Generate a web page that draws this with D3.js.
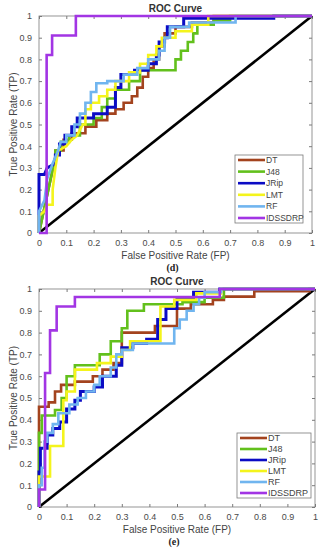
<!DOCTYPE html>
<html>
<head>
<meta charset="utf-8">
<script src="https://cdn.jsdelivr.net/npm/d3@7"></script>
<style>
  body { margin: 0; background: #fff; }
  svg { display: block; font-family: "Liberation Sans", Arial, sans-serif; }
</style>
</head>
<body>
<div id="container"></div>
<script>
// series names, colours, tick values
const seriesNames = ["DT", "J48", "JRip", "LMT", "RF", "IDSSDRP"];
const seriesColors = ["#a3431e", "#62c01c", "#0b0bc4", "#f4f41c", "#70b5ef", "#a235e4"];
const tickValues = [0, 0.1, 0.2, 0.3, 0.4, 0.5, 0.6, 0.7, 0.8, 0.9, 1];
const tickLabels = ["0", "0.1", "0.2", "0.3", "0.4", "0.5", "0.6", "0.7", "0.8", "0.9", "1"];
const panelLabels = ["(d)", "(e)"];

// panel (d): [FP, TP]
const dDT = [[0,0],[0.06,0.35],[0.06,0.38],[0.09,0.38],[0.09,0.43],[0.12,0.43],[0.12,0.46],[0.17,0.46],[0.17,0.49],[0.21,0.49],[0.21,0.52],[0.25,0.52],[0.25,0.55],[0.28,0.55],[0.28,0.57],[0.31,0.57],[0.31,0.6],[0.34,0.6],[0.34,0.63],[0.36,0.63],[0.36,0.67],[0.38,0.67],[0.38,0.72],[0.4,0.72],[0.4,0.76],[0.42,0.76],[0.42,0.8],[0.44,0.8],[0.44,0.86],[0.46,0.86],[0.46,0.92],[0.5,0.92],[0.5,0.95],[0.56,0.95],[0.56,0.97],[0.64,0.97],[0.64,1],[1,1]];
const dJ48 = [[0,0],[0.06,0.35],[0.06,0.38],[0.08,0.38],[0.08,0.42],[0.11,0.42],[0.11,0.45],[0.15,0.45],[0.15,0.5],[0.2,0.5],[0.2,0.53],[0.23,0.53],[0.23,0.58],[0.25,0.58],[0.25,0.62],[0.28,0.62],[0.28,0.66],[0.33,0.66],[0.33,0.7],[0.37,0.7],[0.37,0.75],[0.5,0.75],[0.5,0.8],[0.52,0.8],[0.52,0.84],[0.545,0.84],[0.545,0.88],[0.565,0.88],[0.565,0.92],[0.58,0.92],[0.58,0.96],[0.64,0.96],[0.64,0.98],[0.7,0.98],[0.7,1],[1,1]];
const dJRip = [[0,0],[0,0.27],[0.02,0.27],[0.03,0.3],[0.06,0.32],[0.06,0.36],[0.075,0.36],[0.075,0.41],[0.095,0.41],[0.095,0.45],[0.12,0.45],[0.12,0.49],[0.14,0.49],[0.14,0.53],[0.2,0.53],[0.2,0.55],[0.25,0.55],[0.25,0.58],[0.28,0.58],[0.28,0.67],[0.3,0.67],[0.3,0.73],[0.35,0.73],[0.35,0.75],[0.4,0.75],[0.4,0.78],[0.43,0.78],[0.43,0.82],[0.44,0.82],[0.44,0.88],[0.46,0.88],[0.46,0.9],[0.47,0.9],[0.47,0.95],[0.53,0.95],[0.53,0.99],[0.86,0.99],[0.86,1],[1,1]];
const dLMT = [[0,0],[0,0.08],[0.02,0.1],[0.03,0.13],[0.05,0.13],[0.05,0.2],[0.06,0.3],[0.07,0.38],[0.1,0.4],[0.12,0.43],[0.14,0.45],[0.16,0.5],[0.17,0.5],[0.17,0.57],[0.19,0.57],[0.19,0.6],[0.22,0.6],[0.22,0.63],[0.25,0.63],[0.25,0.66],[0.28,0.66],[0.28,0.7],[0.33,0.7],[0.33,0.74],[0.37,0.74],[0.37,0.78],[0.4,0.78],[0.4,0.82],[0.43,0.82],[0.43,0.86],[0.45,0.86],[0.45,0.9],[0.5,0.9],[0.5,0.93],[0.56,0.93],[0.56,0.96],[0.62,0.96],[0.62,1],[1,1]];
const dRF = [[0,0],[0,0.1],[0.02,0.15],[0.03,0.25],[0.05,0.32],[0.07,0.38],[0.08,0.42],[0.1,0.42],[0.1,0.45],[0.13,0.45],[0.13,0.5],[0.15,0.5],[0.15,0.55],[0.17,0.55],[0.17,0.6],[0.19,0.6],[0.19,0.65],[0.21,0.65],[0.21,0.69],[0.25,0.69],[0.25,0.7],[0.31,0.7],[0.31,0.73],[0.36,0.73],[0.36,0.76],[0.4,0.76],[0.4,0.8],[0.44,0.8],[0.44,0.84],[0.46,0.84],[0.46,0.9],[0.48,0.9],[0.48,0.95],[0.55,0.95],[0.55,0.97],[0.72,0.97],[0.72,1],[1,1]];
const dIDSSDRP = [[0,0],[0.028,0],[0.028,0.82],[0.048,0.82],[0.048,0.91],[0.135,0.91],[0.135,1],[1,1]];

// panel (e): [FP, TP]
const eDT = [[0,0],[0,0.46],[0.035,0.46],[0.035,0.48],[0.058,0.48],[0.058,0.53],[0.08,0.53],[0.08,0.56],[0.13,0.56],[0.13,0.575],[0.195,0.575],[0.195,0.6],[0.23,0.6],[0.23,0.63],[0.27,0.63],[0.27,0.66],[0.3,0.66],[0.3,0.8],[0.42,0.8],[0.42,0.83],[0.5,0.83],[0.5,0.91],[0.55,0.91],[0.55,0.93],[0.63,0.93],[0.63,0.95],[0.67,0.95],[0.67,0.965],[0.78,0.965],[0.78,0.99],[0.98,0.99],[0.98,1],[1,1]];
const eJ48 = [[0,0],[0,0.34],[0.01,0.34],[0.01,0.42],[0.058,0.42],[0.058,0.445],[0.082,0.445],[0.082,0.5],[0.1,0.5],[0.1,0.6],[0.13,0.6],[0.13,0.65],[0.22,0.65],[0.22,0.7],[0.26,0.7],[0.26,0.76],[0.3,0.76],[0.3,0.82],[0.32,0.82],[0.32,0.9],[0.38,0.9],[0.38,0.93],[0.52,0.93],[0.52,0.94],[0.6,0.94],[0.6,0.96],[0.67,0.96],[0.67,1],[1,1]];
const eJRip = [[0,0],[0,0.16],[0.005,0.16],[0.005,0.27],[0.03,0.27],[0.03,0.33],[0.05,0.33],[0.05,0.36],[0.075,0.36],[0.075,0.39],[0.1,0.39],[0.1,0.45],[0.13,0.45],[0.13,0.49],[0.15,0.49],[0.15,0.53],[0.2,0.53],[0.2,0.55],[0.23,0.55],[0.23,0.6],[0.28,0.6],[0.28,0.65],[0.3,0.65],[0.3,0.73],[0.34,0.73],[0.34,0.75],[0.39,0.75],[0.39,0.77],[0.43,0.77],[0.43,0.86],[0.46,0.86],[0.46,0.91],[0.5,0.91],[0.5,0.96],[0.56,0.96],[0.56,0.985],[0.655,0.985],[0.655,1],[1,1]];
const eLMT = [[0,0],[0,0.14],[0.04,0.14],[0.04,0.28],[0.088,0.28],[0.088,0.49],[0.1,0.49],[0.1,0.53],[0.13,0.53],[0.13,0.63],[0.21,0.63],[0.21,0.66],[0.26,0.66],[0.26,0.69],[0.3,0.69],[0.3,0.72],[0.33,0.72],[0.33,0.76],[0.44,0.76],[0.44,0.92],[0.49,0.92],[0.49,0.95],[0.57,0.95],[0.57,0.98],[0.66,0.98],[0.66,1],[1,1]];
const eRF = [[0,0],[0,0.1],[0.01,0.1],[0.01,0.18],[0.02,0.18],[0.02,0.3],[0.03,0.3],[0.03,0.34],[0.05,0.34],[0.05,0.38],[0.07,0.38],[0.07,0.43],[0.11,0.43],[0.11,0.47],[0.14,0.47],[0.14,0.5],[0.17,0.5],[0.17,0.53],[0.2,0.53],[0.2,0.56],[0.22,0.56],[0.22,0.6],[0.26,0.6],[0.26,0.64],[0.28,0.64],[0.28,0.7],[0.3,0.7],[0.3,0.72],[0.34,0.72],[0.34,0.75],[0.49,0.75],[0.49,0.82],[0.51,0.82],[0.51,0.86],[0.535,0.86],[0.535,0.9],[0.56,0.9],[0.56,0.93],[0.58,0.93],[0.58,0.96],[0.6,0.96],[0.6,0.985],[0.66,0.985],[0.66,1],[1,1]];
const eIDSSDRP = [[0,0],[0,0.08],[0.022,0.08],[0.022,0.615],[0.04,0.615],[0.04,0.81],[0.064,0.81],[0.064,0.92],[0.13,0.92],[0.13,0.963],[0.655,0.963],[0.655,1],[1,1]];

const chance = [[0,0],[1,1]];

function drawPanel(svg, p) {
    const x = d3.scaleLinear().domain([0, 1]).range([p.left, p.right]);
    const y = d3.scaleLinear().domain([0, 1]).range([p.bottom, p.top]);
    const g = svg.append("g");

    // box
    g.append("rect")
        .attr("x", p.left).attr("y", p.top)
        .attr("width", p.right - p.left).attr("height", p.bottom - p.top)
        .attr("fill", "#fff").attr("stroke", "#7a7a7a").attr("stroke-width", 0.8);

    // ticks inside on all four sides
    const axes = [
        d3.axisBottom(x).tickValues(tickValues).tickFormat((d, i) => tickLabels[i]).tickSizeInner(-3).tickSizeOuter(0).tickPadding(7),
        d3.axisLeft(y).tickValues(tickValues).tickFormat((d, i) => tickLabels[i]).tickSizeInner(-3).tickSizeOuter(0).tickPadding(7),
        d3.axisTop(x).tickValues(tickValues).tickFormat("").tickSizeInner(-3).tickSizeOuter(0),
        d3.axisRight(y).tickValues(tickValues).tickFormat("").tickSizeInner(-3).tickSizeOuter(0)
    ];
    const shifts = [`translate(0,${p.bottom})`, `translate(${p.left},0)`, `translate(0,${p.top})`, `translate(${p.right},0)`];
    axes.forEach((ax, i) => {
        const a = g.append("g").attr("transform", shifts[i]).call(ax);
        a.select(".domain").remove();
        a.selectAll("line").attr("stroke", "#7a7a7a");
        a.selectAll("text").attr("fill", "#4a4a4a").style("font-size", "9px");
    });

    const line = d3.line().x(d => x(d[0])).y(d => y(d[1]));

    g.append("path").attr("d", line(chance))
        .attr("fill", "none").attr("stroke", "#000").attr("stroke-width", 2.6);

    p.series.forEach((s, i) => {
        g.append("path").attr("d", line(s))
            .attr("fill", "none")
            .attr("stroke", seriesColors[i])
            .attr("stroke-width", i === 2 ? 3 : 2.6)
            .attr("stroke-linejoin", "miter");
    });

    // title and labels
    g.append("text").text("ROC Curve")
        .attr("x", (p.left + p.right) / 2).attr("y", p.top - 4)
        .attr("text-anchor", "middle").attr("fill", "#333")
        .style("font-size", "10px").style("font-weight", "bold");

    g.append("text").text("False Positive Rate (FP)")
        .attr("x", (p.left + p.right) / 2).attr("y", p.bottom + 26)
        .attr("text-anchor", "middle").attr("fill", "#444")
        .style("font-size", "10px");

    g.append("text").text("True Positive Rate (TP)")
        .attr("transform", `translate(17,${(p.top + p.bottom) / 2}) rotate(-90)`)
        .attr("text-anchor", "middle").attr("fill", "#444")
        .style("font-size", "10px");

    g.append("text").text(p.label)
        .attr("x", (p.left + p.right) / 2 - 3).attr("y", p.bottom + 38)
        .attr("text-anchor", "middle").attr("fill", "#222")
        .style("font-family", "'Liberation Serif', 'Times New Roman', serif")
        .style("font-size", "10px").style("font-weight", "bold");

    // legend
    const lg = g.append("g");
    lg.append("rect")
        .attr("x", p.lx).attr("y", p.ly)
        .attr("width", p.lw).attr("height", p.lh)
        .attr("fill", "#fff").attr("stroke", "#7a7a7a").attr("stroke-width", 0.8);
    const step = (p.lh - 10) / (seriesNames.length - 1);
    seriesNames.forEach((name, i) => {
        const yy = p.ly + 5 + i * step;
        lg.append("line")
            .attr("x1", p.lx + 3).attr("x2", p.lx + 30)
            .attr("y1", yy).attr("y2", yy)
            .attr("stroke", seriesColors[i]).attr("stroke-width", 2.6);
        lg.append("text").text(name)
            .attr("x", p.lx + 31).attr("y", yy + 3)
            .attr("fill", "#444").style("font-size", p.lfont);
    });
}

function draw() {
    const width = 325;
    const height = 550;
    const svg = d3.select("#container")
        .append("svg")
        .attr("width", width)
        .attr("height", height);

    drawPanel(svg, {
        left: 39, right: 312, top: 16, bottom: 233,
        series: [dDT, dJ48, dJRip, dLMT, dRF, dIDSSDRP],
        label: panelLabels[0],
        lx: 235, ly: 155, lw: 68, lh: 68, lfont: "8.5px"
    });

    drawPanel(svg, {
        left: 39, right: 315, top: 289, bottom: 507,
        series: [eDT, eJ48, eJRip, eLMT, eRF, eIDSSDRP],
        label: panelLabels[1],
        lx: 237, ly: 433, lw: 74, lh: 65, lfont: "9px"
    });
}

draw();
</script>
</body>
</html>
